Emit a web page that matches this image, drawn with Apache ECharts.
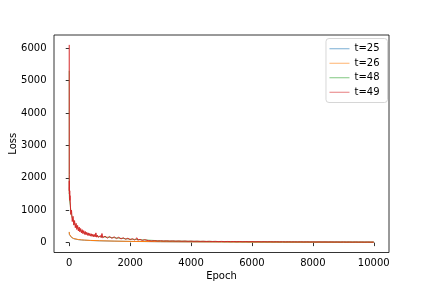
<!DOCTYPE html>
<html>
<head>
<meta charset="utf-8">
<script src="https://cdn.jsdelivr.net/npm/echarts@6/dist/echarts.min.js"></script>
<style>html,body{margin:0;padding:0;background:#fff;}#c{width:432px;height:288px;}</style>
</head>
<body>
<div id="c"></div>
<script>
// ---- data ----
const seriesNames = ['t=25', 't=26', 't=48', 't=49'];
const xTicks = [0, 2000, 4000, 6000, 8000, 10000];
const yTicks = [0, 1000, 2000, 3000, 4000, 5000, 6000];

// coarse epochs for the smooth curves (t=25, t=26, t=48)
const epochsCoarse = [0,1,2,5,10,20,35,50,75,100,150,200,300,400,500,700,1000,1500,2000,3000,4000,5000,6000,7000,8000,9000,9999];
const lossT25 = [320,290,270,250,232,212,192,178,158,143,120,105,90,81,74,64,55,44,36,27,22,18,15,13,12,11,10];
const lossT26 = [330,300,280,260,240,220,200,185,165,150,125,110,95,85,78,68,58,46,38,29,23,19,16,14,13,12,11];
const lossT48 = [5300,1900,1500,1400,1300,1250,1150,1000,850,760,630,540,425,352,300,236,184,150,107,55,42,33,28,24,21,19,17];

// fine epochs for the noisy curve (t=49)
const epochsFine = [0,1,2,3,5,8,12,16,20,
 25,50,75,100,125,150,175,200,225,250,275,300,325,350,375,400,425,450,475,500,
 525,550,575,600,625,650,675,700,725,750,775,800,825,850,875,900,925,950,975,1000,
 1025,1050,1075,1100,1125,1150,1175,1200,1225,1250,1275,1300,1325,1350,1375,1400,1425,1450,1475,1500,
 1525,1550,1575,1600,1625,1650,1675,1700,1725,1750,1775,1800,1825,1850,1875,1900,1925,1950,1975,2000,
 2025,2050,2075,2100,2125,2150,2175,2200,2225,2250,2275,2300,2325,2350,2375,2400,2425,2450,2475,2500,
 2600,2700,2800,2900,3000,3100,3200,3300,3400,3500,3600,3700,3800,3900,4000,4100,4200,4300,4400,4500,
 4600,4700,4800,4900,5000,5100,5200,5300,5400,5500,5600,5700,5800,5900,6000,6100,6200,6300,6400,6500,
 6600,6700,6800,6900,7000,7100,7200,7300,7400,7500,7600,7700,7800,7900,8000,8100,8200,8300,8400,8500,
 8600,8700,8800,8900,9000,9100,9200,9300,9400,9500,9600,9700,9800,9900,9999];
const lossT49 = [6100,2100,1600,1900,1500,1700,1450,1600,1300,
 1450,870,1000,650,810,540,680,460,595,405,530,360,480,330,435,300,400,275,370,255,
 345,240,320,225,300,212,285,200,272,190,260,183,250,175,300,168,230,162,220,156,
 215,153,280,150,205,146,200,143,196,139,192,137,189,134,185,132,182,129,178,127,
 175,124,170,121,165,116,160,113,155,110,150,105,144,102,140,99,135,94,129,91,
 124,88,120,85,116,82,111,78,150,76,103,72,99,70,94,67,92,65,90,64,
 62,52,60,50,57,48,54,46,52,44,50,42,48,40,46,39,44,37,42,35,
 40,34,38,32,37,31,35,30,34,29,33,28,32,27,31,26,30,25,29,25,
 28,24,27,23,26,22,25,22,24,21,24,20,23,20,22,19,22,19,21,18,
 21,18,20,17,20,17,19,16,19,16,18,15,18,15,17];

const colors = ['#1f77b4', '#ff7f0e', '#2ca02c', '#d62728'];

function pairs(xs, ys) { return xs.map((x, i) => [x, ys[i]]); }

const chart = echarts.init(document.getElementById('c'), null, {renderer: 'canvas'});
const font = 'DejaVu Sans';
const seriesData = [
  pairs(epochsCoarse, lossT25),
  pairs(epochsCoarse, lossT26),
  pairs(epochsCoarse, lossT48),
  pairs(epochsFine, lossT49)
];

chart.setOption({
  animation: false,
  backgroundColor: '#fff',
  grid: {left: 54, right: 43, top: 35, bottom: 35.5, containLabel: false, outerBoundsMode: 'none',
         show: true, borderColor: '#000', borderWidth: 0.8, backgroundColor: 'transparent'},
  xAxis: {
    type: 'value', min: -500, max: 10500,
    name: 'Epoch', nameLocation: 'middle', nameGap: 19, nameMoveOverlap: false,
    nameTextStyle: {fontFamily: font, fontSize: 10, color: '#000'},
    axisLine: {show: false},
    splitLine: {show: false},
    axisTick: {show: true, length: 3.5, customValues: xTicks, lineStyle: {color: '#000', width: 0.8}},
    axisLabel: {customValues: xTicks, margin: 5.5, fontFamily: font, fontSize: 10, color: '#000', formatter: v => String(v)}
  },
  yAxis: {
    type: 'value', min: -305, max: 6405,
    name: 'Loss', nameLocation: 'middle', nameGap: 36, nameMoveOverlap: false,
    nameTextStyle: {fontFamily: font, fontSize: 10, color: '#000'},
    axisLine: {show: false},
    splitLine: {show: false},
    axisTick: {show: true, length: 3.5, customValues: yTicks, lineStyle: {color: '#000', width: 0.8}},
    axisLabel: {customValues: yTicks, margin: 7.5, fontFamily: font, fontSize: 10, color: '#000', formatter: v => String(v)}
  },
  legend: {
    orient: 'vertical', right: 44.5, top: 38.5,
    itemWidth: 20, itemHeight: 1, itemGap: 0,
    padding: [3, 8, 3, 3.5],
    borderColor: '#cccccc', borderWidth: 0.8, borderRadius: 3,
    backgroundColor: 'rgba(255,255,255,0.8)',
    textStyle: {fontFamily: font, fontSize: 10, color: '#000', lineHeight: 14.5},
    data: seriesNames.map((n, i) => ({name: n, icon: 'rect', itemStyle: {color: colors[i], opacity: 0.6}}))
  },
  series: seriesNames.map((n, i) => ({
    name: n, type: 'line', data: seriesData[i],
    showSymbol: false, symbol: 'none', sampling: null,
    lineStyle: {color: colors[i], width: i === 1 || i === 3 ? 1 : 0.7},
    itemStyle: {color: colors[i]},
    emphasis: {disabled: true}
  }))
});
</script>
</body>
</html>
